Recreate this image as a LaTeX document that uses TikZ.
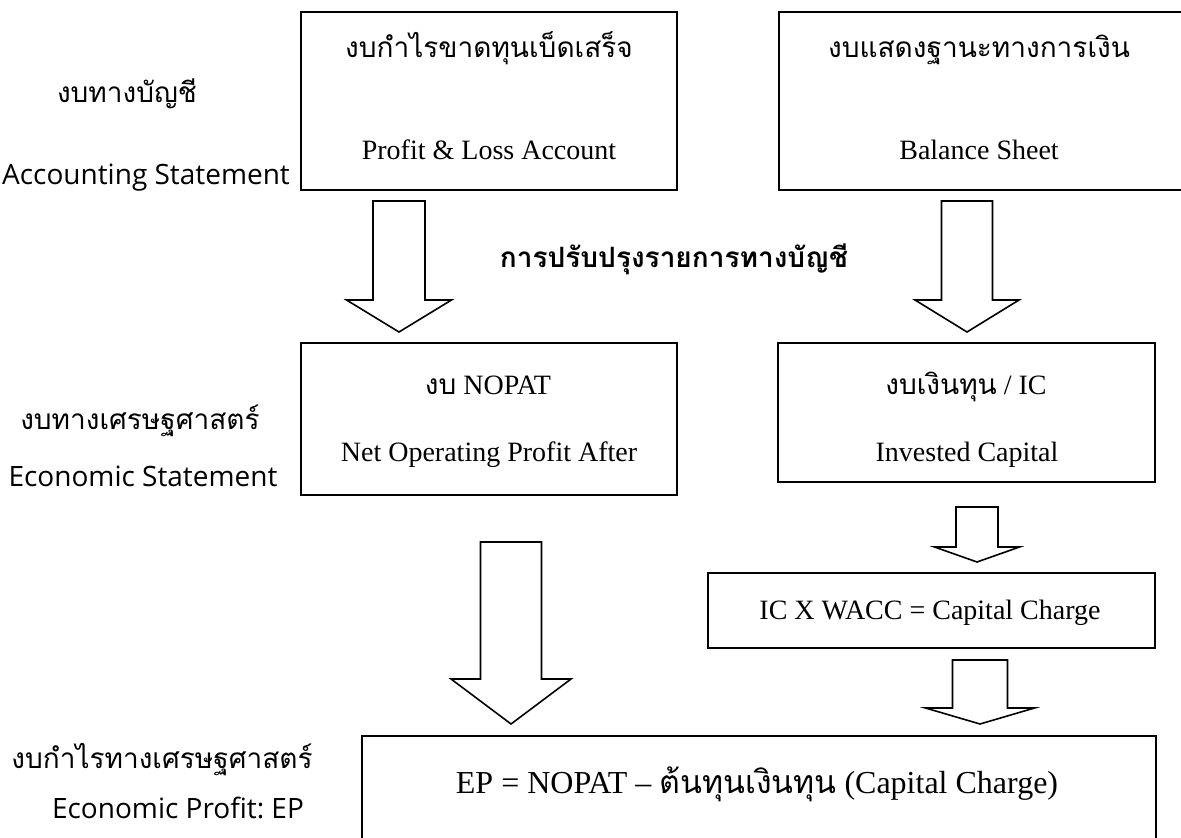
\documentclass[tikz,border=0pt]{standalone}
\usepackage{fontspec}
\setmainfont{Liberation Serif}
\newfontfamily\thaifont[Script=Thai]{Loma}
\newfontfamily\labelfont{Open Sans}
\usetikzlibrary{fit}
\frenchspacing

\tikzset{
  box/.style={draw, line width=1.1pt, inner sep=0pt},
  flow/.style={draw, fill=white, line width=0.8pt, line join=miter},
  boxtext/.style={anchor=base, inner sep=0pt, font=\fontsize{14}{16}\selectfont},
  boxthai/.style={anchor=base, inner sep=0pt, font=\thaifont\fontsize{14}{16}\selectfont},
  sidetext/.style={anchor=base, inner sep=0pt, font=\labelfont\fontsize{14}{16}\selectfont},
  sidethai/.style={anchor=base, inner sep=0pt, font=\thaifont\fontsize{14}{16}\selectfont},
}

% hollow block arrow pointing down:
% centre x, top y, shaft bottom y, tip y, shaft half width, head half width
\newcommand\downblock[6]{%
  \draw[flow] (#1-#5,#2) -- (#1+#5,#2) -- (#1+#5,#3) -- (#1+#6,#3)
    -- (#1,#4) -- (#1-#6,#3) -- (#1-#5,#3) -- cycle;}

\begin{document}
\begin{tikzpicture}[x=0.5pt, y=-0.5pt]
\useasboundingbox (0,0) rectangle (1181,838);
\clip (0,0) rectangle (1181,838);

% statement boxes
\node[box, fit={(301,12) (677,190)}] (pl) {};
\node[box, fit={(779,12) (1190,190)}] (bs) {};
\node[box, fit={(301,343) (677,495)}] (nopat) {};
\node[box, fit={(778,343) (1155,482)}] (ic) {};
\node[box, fit={(708,573) (1155,648)}] (charge) {};
\node[box, fit={(362,736) (1156,870)}] (ep) {};

% box contents
\node[boxthai] (plth) at (489,58) {งบกำไรขาดทุนเบ็ดเสร็จ};
\node[boxtext] (plen) at (489,160) {Profit \& Loss Account};
\node[boxthai] (bsth) at (979,58) {งบแสดงฐานะทางการเงิน};
\node[boxtext] (bsen) at (979,160) {Balance Sheet};
\node[boxtext] (nopatth) at (488,395) {{\thaifont งบ} NOPAT};
\node[boxtext] (nopaten) at (489,462) {Net Operating Profit After};
\node[boxtext] (icth) at (966,395) {{\thaifont งบเงินทุน} / IC};
\node[boxtext] (icen) at (967,462) {Invested Capital};
\node[boxtext] (chargetx) at (930,619) {IC X WACC = Capital Charge};
\node[boxtext, font=\fontsize{16}{18}\selectfont] (eptx) at (757,793)
  {EP = NOPAT – {\thaifont ต้นทุนเงินทุน} (Capital Charge)};

% adjustment label between the two rows
\node[anchor=base, inner sep=0pt, font=\thaifont\bfseries\fontsize{14}{16}\selectfont]
  (adjust) at (674,268) {การปรับปรุงรายการทางบัญชี};

% row labels
\node[sidethai] (acth) at (127,103) {งบทางบัญชี};
\node[sidetext] (acen) at (146,185) {Accounting Statement};
\node[sidethai] (ecth) at (140,430) {งบทางเศรษฐศาสตร์};
\node[sidetext] (ecen) at (143,487) {Economic Statement};
\node[sidethai] (epth) at (162,768) {งบกำไรทางเศรษฐศาสตร์};
\node[sidetext] (epen) at (178,818) {Economic Profit: EP};

% flow arrows
\downblock{399}{201}{300}{332}{26}{52.5}
\downblock{967}{201}{300}{332}{25.5}{52}
\downblock{511}{542}{679}{724}{30.5}{60}
\downblock{977}{507}{547}{562}{21}{42.5}
\downblock{980}{660}{708}{724}{27.5}{54.5}
\end{tikzpicture}
\end{document}
